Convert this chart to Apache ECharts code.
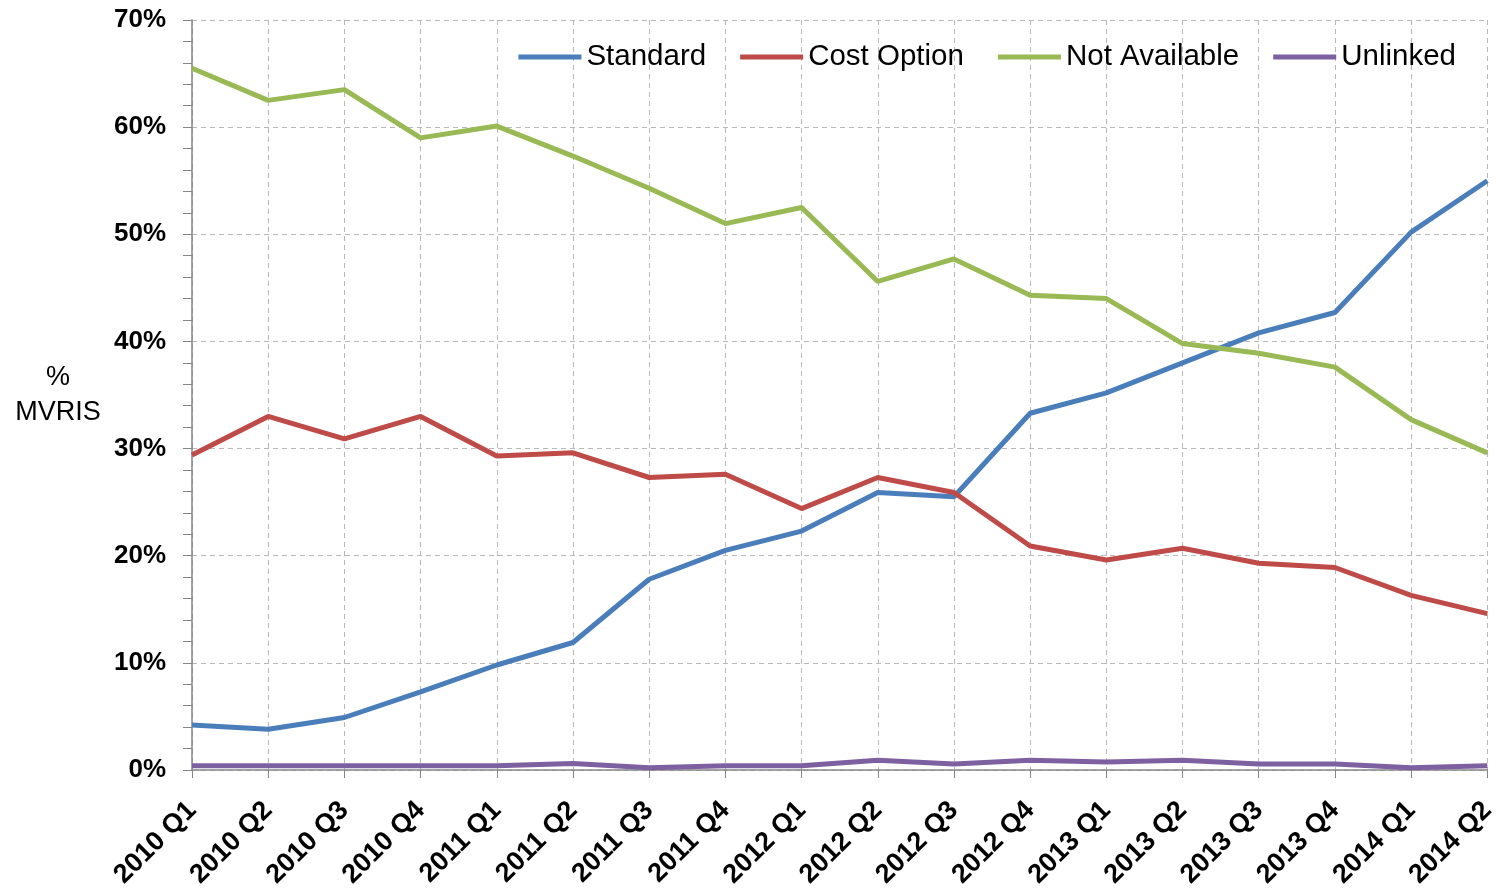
<!DOCTYPE html>
<html>
<head>
<meta charset="utf-8">
<script src="https://cdn.jsdelivr.net/npm/echarts@6/dist/echarts.min.js"></script>
<style>
html,body{margin:0;padding:0;background:#fff;}
#chart{width:1499px;height:896px;}
</style>
</head>
<body>
<div id="chart"></div>
<script>
const categories = ['2010 Q1','2010 Q2','2010 Q3','2010 Q4','2011 Q1','2011 Q2','2011 Q3','2011 Q4','2012 Q1','2012 Q2','2012 Q3','2012 Q4','2013 Q1','2013 Q2','2013 Q3','2013 Q4','2014 Q1','2014 Q2'];
const standard = [4.2,3.8,4.9,7.3,9.8,11.9,17.8,20.5,22.3,25.9,25.5,33.3,35.2,38.0,40.8,42.7,50.2,55.0];
const costOption = [29.4,33.0,30.9,33.0,29.3,29.6,27.3,27.6,24.4,27.3,25.9,20.9,19.6,20.7,19.3,18.9,16.3,14.6];
const notAvailable = [65.5,62.5,63.5,59.0,60.1,57.3,54.3,51.0,52.5,45.6,47.7,44.3,44.0,39.8,38.9,37.6,32.7,29.6];
const unlinked = [0.4,0.4,0.4,0.4,0.4,0.6,0.2,0.4,0.4,0.9,0.55,0.9,0.75,0.9,0.55,0.55,0.2,0.4];
const yTicks = [0,10,20,30,40,50,60,70];

const seriesNames = ['Standard','Cost Option','Not Available','Unlinked'];
const seriesData = [standard, costOption, notAvailable, unlinked];
const colors = ['#4A7EBB','#BE4B48','#98B954','#7D60A0'];

const chart = echarts.init(document.getElementById('chart'));
chart.setOption({
  animation: false,
  backgroundColor: '#ffffff',
  color: colors,
  grid: {left: 192, right: 11, top: 20, bottom: 126, containLabel: false},
  legend: {
    data: seriesNames,
    right: 38, top: 37,
    icon: 'rect',
    itemWidth: 63, itemHeight: 5,
    itemGap: 34,
    textStyle: {fontFamily: "'Liberation Sans',Arial,sans-serif", fontSize: 29.5, color: '#000'}
  },
  xAxis: {
    type: 'category',
    data: categories,
    boundaryGap: false,
    axisLine: {show: true, lineStyle: {color: '#868686', width: 1.5}},
    axisTick: {show: true, length: 8, lineStyle: {color: '#868686'}},
    axisLabel: {rotate: 45, margin: 36, fontFamily: "'Liberation Sans',Arial,sans-serif", fontWeight: 'bold', fontSize: 27, color: '#000', interval: 0},
    splitLine: {show: true, lineStyle: {type: [5,4], color: '#b8b8b8', width: 1}}
  },
  yAxis: {
    type: 'value',
    min: yTicks[0], max: yTicks[yTicks.length-1], interval: 10,
    name: '%\nMVRIS',
    nameLocation: 'middle',
    nameRotate: 0,
    nameGap: 134,
    nameTextStyle: {fontFamily: "'Liberation Sans',Arial,sans-serif", fontSize: 27, color: '#000', lineHeight: 35, align: 'center'},
    axisLine: {show: true, lineStyle: {color: '#868686', width: 1.5}},
    axisTick: {show: true, length: 9, lineStyle: {color: '#868686'}},
    minorTick: {show: true, splitNumber: 5, length: 9, lineStyle: {color: '#868686'}},
    axisLabel: {margin: 26, formatter: v => v + '%', fontFamily: "'Liberation Sans',Arial,sans-serif", fontWeight: 'bold', fontSize: 26, color: '#000'},
    splitLine: {show: true, lineStyle: {type: [5,4], color: '#b8b8b8', width: 1}}
  },
  series: seriesNames.map((n, i) => ({
    name: n,
    type: 'line',
    data: seriesData[i],
    symbol: 'none',
    lineStyle: {width: 5, color: colors[i]},
    itemStyle: {color: colors[i]},
    z: 2 + i
  }))
});
</script>
</body>
</html>
